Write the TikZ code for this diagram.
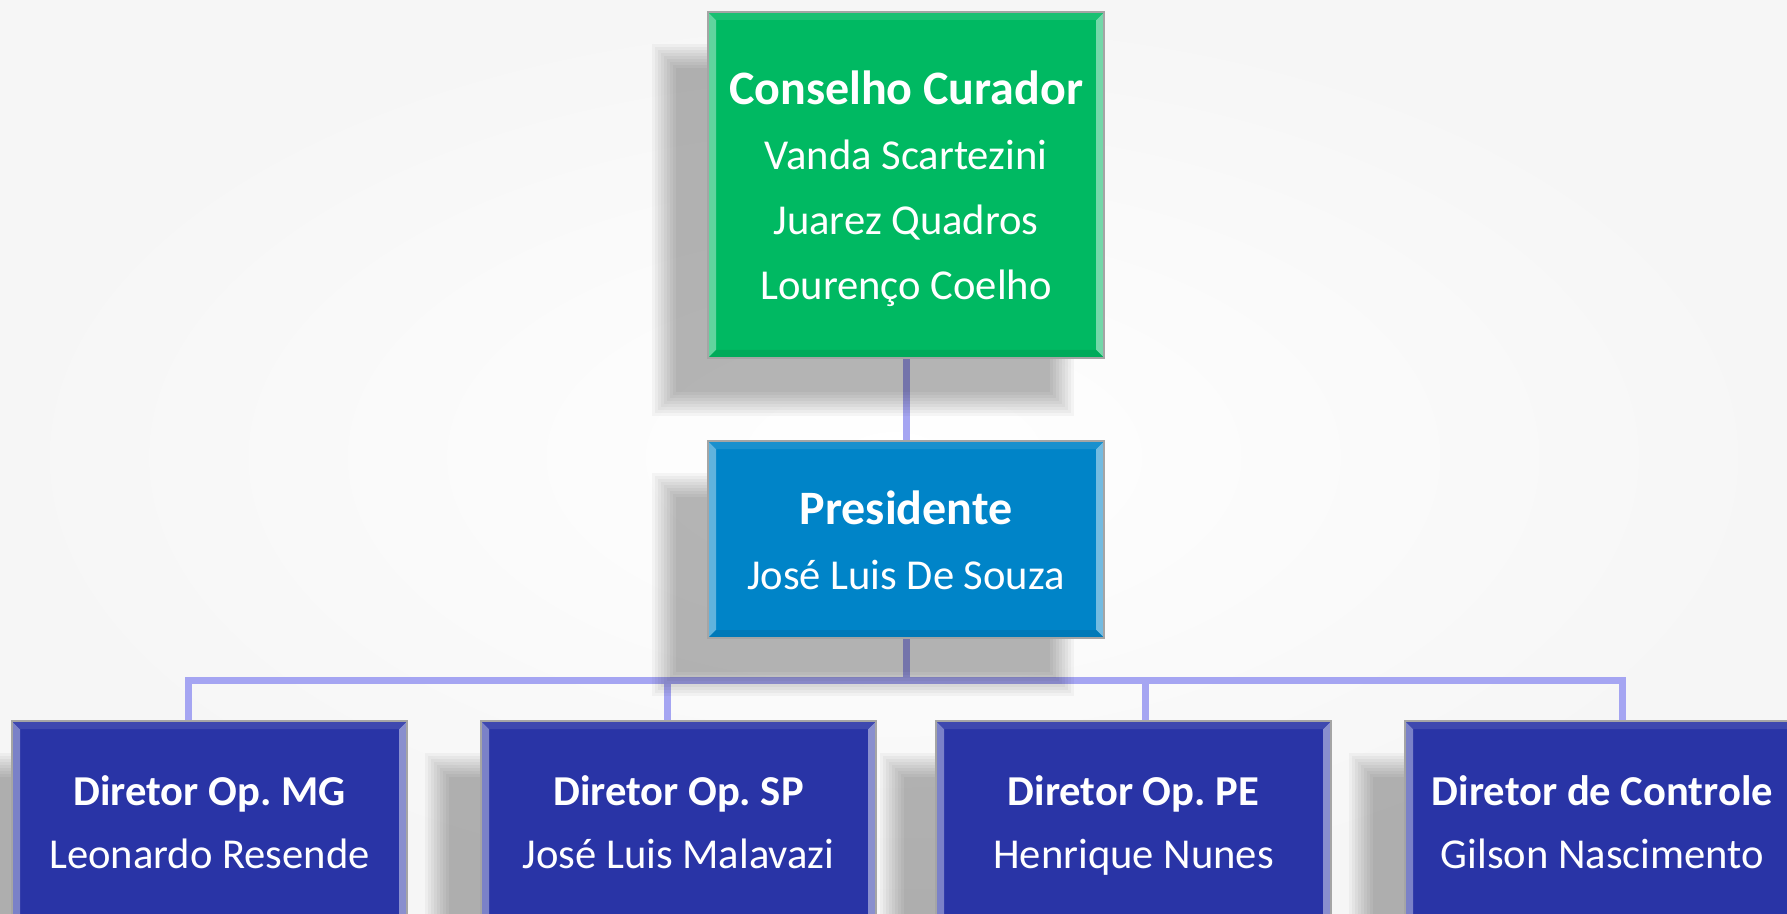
\documentclass[tikz,border=0pt]{standalone}
\usepackage{fontspec}
\setmainfont{Carlito}
\frenchspacing
\definecolor{bggray}{RGB}{246,246,246}
\definecolor{boxgreen}{RGB}{0,185,98}
\definecolor{boxblue}{RGB}{0,132,200}
\definecolor{boxnavy}{RGB}{41,52,166}
\definecolor{connline}{RGB}{165,165,242}
\definecolor{boxedge}{RGB}{165,165,165}
\pgfdeclarelayer{back}
\pgfdeclarelayer{links}
\pgfdeclarelayer{shade}
\pgfsetlayers{back,links,shade,main}
\newcommand{\bigtitle}{\fontsize{24}{32.5}\selectfont\bfseries}
\newcommand{\smalltitle}{\fontsize{21.3}{31.5}\selectfont\bfseries}
\tikzset{
  orgbox/.style={rectangle, draw=boxedge, line width=0.6pt, fill=#1, inner sep=0pt,
    path picture={
      \fill[#1!62!white] (path picture bounding box.north west)
        -- (path picture bounding box.south west)
        -- ([shift={(4pt,4pt)}]path picture bounding box.south west)
        -- ([shift={(4pt,-4pt)}]path picture bounding box.north west) -- cycle;
      \fill[#1!55!white] (path picture bounding box.north east)
        -- (path picture bounding box.south east)
        -- ([shift={(-4pt,4pt)}]path picture bounding box.south east)
        -- ([shift={(-4pt,-4pt)}]path picture bounding box.north east) -- cycle;
      \fill[#1!90!white] (path picture bounding box.north west)
        -- (path picture bounding box.north east)
        -- ([shift={(-4pt,-4pt)}]path picture bounding box.north east)
        -- ([shift={(4pt,-4pt)}]path picture bounding box.north west) -- cycle;
      \fill[#1!92!black] (path picture bounding box.south west)
        -- (path picture bounding box.south east)
        -- ([shift={(-4pt,4pt)}]path picture bounding box.south east)
        -- ([shift={(4pt,4pt)}]path picture bounding box.south west) -- cycle;
    }},
  bigtext/.style={text=white, align=center, inner sep=0pt, font=\fontsize{21.3}{32.5}\selectfont},
  smalltext/.style={text=white, align=center, inner sep=0pt, font=\fontsize{21.3}{31.5}\selectfont},
  link/.style={draw=connline, line width=3.5pt},
  softshadow/.style={fill=black, opacity=0.036},
}
\begin{document}
\begin{tikzpicture}[x=0.5pt, y=-0.5pt]
\useasboundingbox (0,0) rectangle (1787,914);
\begin{pgfonlayer}{back}
  \shade[inner color=white, outer color=bggray] (0,0) rectangle (1787,914);
\end{pgfonlayer}

% boxes
\node[orgbox=boxgreen, minimum width=198pt, minimum height=173pt] (cc) at (906,185) {};
\node[orgbox=boxblue, minimum width=198pt, minimum height=98.5pt] (pres) at (906,539.5) {};
\node[orgbox=boxnavy, minimum width=197.5pt, minimum height=101pt] (d1) at (209.5,822) {};
\node[orgbox=boxnavy, minimum width=197.5pt, minimum height=101pt] (d2) at (678.5,822) {};
\node[orgbox=boxnavy, minimum width=197.5pt, minimum height=101pt] (d3) at (1133.5,822) {};
\node[orgbox=boxnavy, minimum width=197.5pt, minimum height=101pt] (d4) at (1602.5,822) {};

% texts
\node[bigtext] (cct) at (906,189.5)
  {{\bigtitle\strut Conselho Curador}\\Vanda Scartezini\\Juarez Quadros\\Lourenço Coelho\strut};
\node[bigtext] (prest) at (906,544)
  {{\bigtitle\strut Presidente}\\José Luis De Souza\strut};
\node[smalltext] (d1t) at (209.5,824) {{\smalltitle\strut Diretor Op. MG}\\Leonardo Resende\strut};
\node[smalltext] (d2t) at (678.5,824) {{\smalltitle\strut Diretor Op. SP}\\José Luis Malavazi\strut};
\node[smalltext] (d3t) at (1133.5,824) {{\smalltitle\strut Diretor Op. PE}\\Henrique Nunes\strut};
\node[smalltext] (d4t) at (1602.5,824) {{\smalltitle\strut Diretor de Controle}\\Gilson Nascimento\strut};

\coordinate (j1) at (188,680);
\coordinate (j2) at (667,680);
\coordinate (j3) at (1145,680);
\coordinate (j4) at (1622,680);

\begin{pgfonlayer}{shade}
  \foreach \n in {cc,pres,d1,d2,d3,d4}{
    \foreach \r in {0,...,8}{
      \fill[softshadow]
        ([shift={(-27.5pt+1.5pt*\r,-16.5pt-1.5pt*\r)}]\n.north west)
        rectangle
        ([shift={(-15.5pt-1.5pt*\r,-28.5pt+1.5pt*\r)}]\n.south east);
    }
  }
\end{pgfonlayer}

\begin{pgfonlayer}{links}
  \draw[link] (cc.south) -- (pres.north);
  \draw[link] (pres.south) |- (j1) -- (j1 |- d1.north);
  \draw[link] (pres.south) |- (j2) -- (j2 |- d2.north);
  \draw[link] (pres.south) |- (j3) -- (j3 |- d3.north);
  \draw[link] (pres.south) |- (j4) -- (j4 |- d4.north);
\end{pgfonlayer}
\end{tikzpicture}
\end{document}
